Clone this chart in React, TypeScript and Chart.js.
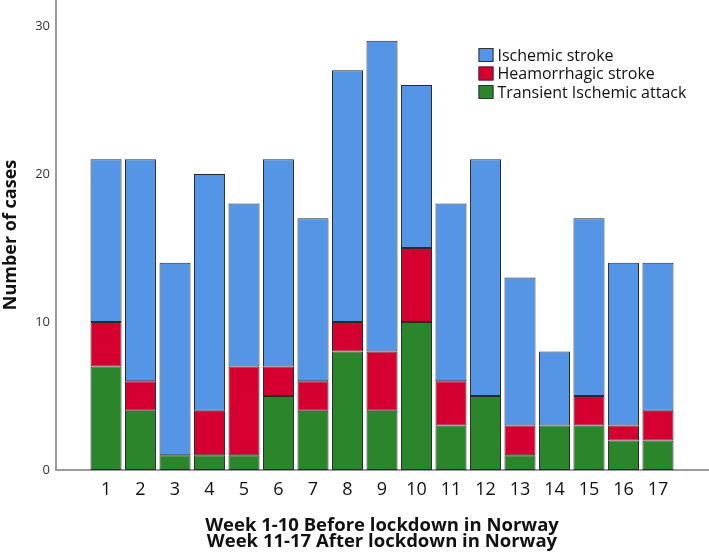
import React, { useEffect, useRef } from "react";
import { Chart, registerables } from "chart.js";

Chart.register(...registerables);

const weeks = [1, 2, 3, 4, 5, 6, 7, 8, 9, 10, 11, 12, 13, 14, 15, 16, 17];
const weekLabels = ["1", "2", "3", "4", "5", "6", "7", "8", "9", "10", "11", "12", "13", "14", "15", "16", "17"];
const tiaCases = [7, 4, 1, 1, 1, 5, 4, 8, 4, 10, 3, 5, 1, 3, 3, 2, 2];
const haemorrhagicCases = [3, 2, 0, 3, 6, 2, 2, 2, 4, 5, 3, 0, 2, 0, 2, 1, 2];
const ischemicCases = [11, 15, 13, 16, 11, 14, 11, 17, 21, 11, 12, 16, 10, 5, 12, 11, 10];
const yTicks = [0, 10, 20, 30];

const FONT = "'Open Sans', 'DejaVu Sans', sans-serif";

const legendPlugin = {
  id: "insideLegend",
  afterDatasetsDraw(chart: any) {
    const { ctx, chartArea } = chart;
    const items = [...chart.data.datasets].reverse();
    const x0 = chartArea.left + (chartArea.right - chartArea.left) * 0.648;
    const y0 = chartArea.top + 55;
    const step = 18.5;
    ctx.save();
    ctx.font = `16px ${FONT}`;
    ctx.textBaseline = "middle";
    items.forEach((ds: any, i: number) => {
      const cy = y0 + i * step;
      ctx.fillStyle = ds.backgroundColor;
      ctx.fillRect(x0, cy - 7, 15, 14);
      ctx.strokeStyle = "#333";
      ctx.lineWidth = 1;
      ctx.strokeRect(x0 + 0.5, cy - 6.5, 14, 13);
      ctx.fillStyle = "#111";
      ctx.fillText(ds.label, x0 + 19, cy + 1);
    });
    ctx.restore();
  },
};

export default function App() {
  const ref = useRef<HTMLCanvasElement>(null);
  useEffect(() => {
    if (!ref.current) return;
    const mk = (vals: number[]) => weeks.map((w, i) => ({ x: w, y: vals[i] }));
    const common = {
      borderColor: "#2a2a2a",
      borderWidth: 1,
      borderSkipped: false,
      categoryPercentage: 1,
      barPercentage: 0.9,
    };
    const chart = new Chart(ref.current, {
      type: "bar",
      data: {
        datasets: [
          { label: "Transient Ischemic attack", data: mk(tiaCases), backgroundColor: "#2b852b", ...common },
          { label: "Heamorrhagic stroke", data: mk(haemorrhagicCases), backgroundColor: "#d50030", ...common },
          { label: "Ischemic stroke", data: mk(ischemicCases), backgroundColor: "#5595e5", ...common },
        ],
      } as any,
      options: {
        animation: false,
        responsive: false,
        maintainAspectRatio: false,
        layout: { padding: { top: 0, right: 1, left: 0, bottom: 0 } },
        plugins: { legend: { display: false }, tooltip: { enabled: false } },
        scales: {
          x: {
            type: "linear",
            stacked: true,
            min: -0.45,
            max: 18.45,
            offset: false,
            grid: { display: false, tickLength: 0 },
            border: { display: true, color: "#9a9a9a", width: 2 },
            afterBuildTicks: (scale: any) => {
              scale.ticks = weeks.map((v) => ({ value: v }));
            },
            afterFit: (scale: any) => {
              scale.height = 82;
              scale.paddingLeft = 0;
              scale.paddingRight = 0;
            },
            ticks: {
              autoSkip: false,
              maxRotation: 0,
              padding: 9,
              color: "#111",
              font: { family: FONT, size: 18 },
              callback: (v: any) => weekLabels[weeks.indexOf(v)] ?? "",
            },
            title: {
              display: true,
              text: ["Week 1-10 Before lockdown in Norway", "Week 11-17 After lockdown in Norway"],
              color: "#111",
              font: { family: FONT, size: 18.5, weight: "bold", lineHeight: 0.87 },
              padding: { top: 0, bottom: 2 },
            },
          },
          y: {
            stacked: true,
            min: 0,
            max: 31.75,
            grid: { display: false, tickLength: 0 },
            border: { display: true, color: "#9a9a9a", width: 2 },
            afterBuildTicks: (scale: any) => {
              scale.ticks = yTicks.map((v) => ({ value: v }));
            },
            afterFit: (scale: any) => {
              scale.width = 56;
              scale.paddingTop = 0;
              scale.paddingBottom = 0;
            },
            ticks: {
              padding: 6,
              color: "#333",
              font: { family: FONT, size: 13 },
            },
            title: {
              display: true,
              text: "Number of cases",
              color: "#111",
              font: { family: FONT, size: 18, weight: "bold" },
              padding: { top: 0, bottom: 0 },
            },
          },
        },
      } as any,
      plugins: [legendPlugin],
    });
    return () => chart.destroy();
  }, []);
  return (
    <div style={{ position: "fixed", left: 0, top: 0, width: 709, height: 552, background: "#fff" }}>
      <canvas ref={ref} width={709} height={552} style={{ display: "block" }} />
    </div>
  );
}
